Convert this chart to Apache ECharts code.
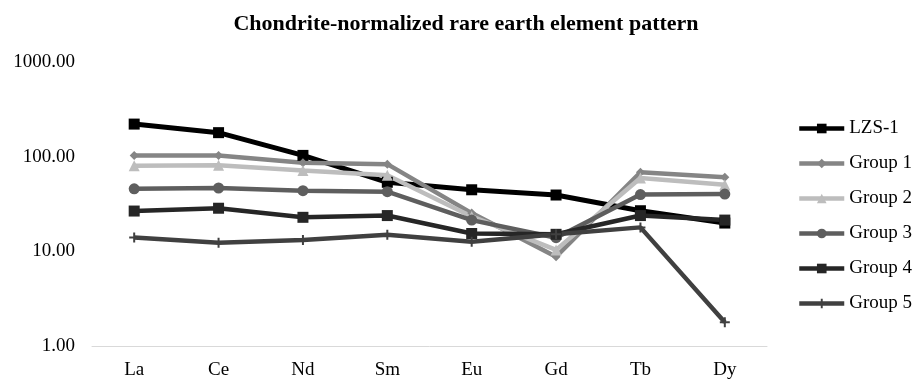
<!DOCTYPE html>
<html>
<head>
<meta charset="utf-8">
<script src="https://cdn.jsdelivr.net/npm/echarts@6/dist/echarts.min.js"></script>
<style>
  html, body { margin: 0; padding: 0; background: #fff; }
  #chart { width: 913px; height: 380px; }
</style>
</head>
<body>
<div id="chart"></div>
<script>
// Chondrite-normalized REE values per sample group
const elements = ['La', 'Ce', 'Nd', 'Sm', 'Eu', 'Gd', 'Tb', 'Dy'];
const lzs1   = [223, 181, 104, 54, 45, 39.6, 27, 20];
const group1 = [104, 104, 87, 84, 25.5, 8.8, 69, 61];
const group2 = [81, 82, 72, 64, 23.5, 10.4, 60, 51];
const group3 = [46, 47, 44, 43, 21.5, 14, 40, 40.5];
const group4 = [26.8, 28.7, 23, 24, 15.5, 15.2, 24, 21.5];
const group5 = [14.1, 12.4, 13.2, 15, 12.7, 15.2, 18, 1.78];
const yTicks = [1, 10, 100, 1000];

const plusPath = 'path://M4,0 L6,0 L6,4 L10,4 L10,6 L6,6 L6,10 L4,10 L4,6 L0,6 L0,4 L4,4 Z';
const serif = '"Liberation Serif", "Times New Roman", serif';

function line(name, data, color, symbol, size, width) {
  return {
    name: name,
    type: 'line',
    data: data,
    symbol: symbol,
    symbolSize: size,
    showSymbol: true,
    lineStyle: { color: color, width: width },
    itemStyle: { color: color, borderWidth: 0 },
    emphasis: { disabled: true },
    animation: false
  };
}

const chart = echarts.init(document.getElementById('chart'));
chart.setOption({
  backgroundColor: '#ffffff',
  title: {
    text: 'Chondrite-normalized rare earth element pattern',
    left: 461,
    textAlign: 'center',
    top: 8,
    textStyle: { fontFamily: serif, fontWeight: 'bold', fontSize: 22, color: '#000' }
  },
  legend: {
    orient: 'vertical',
    left: 797,
    top: 119,
    padding: 0,
    itemWidth: 45,
    itemHeight: 12,
    itemGap: 16,
    lineStyle: { width: 4.5 },
    textStyle: { fontFamily: serif, fontSize: 19, color: '#000' },
    data: ['LZS-1', 'Group 1', 'Group 2', 'Group 3', 'Group 4', 'Group 5']
  },
  grid: { left: 92, right: 146, top: 62.5, bottom: 34, containLabel: false },
  xAxis: {
    type: 'category',
    data: elements,
    boundaryGap: true,
    axisLine: { lineStyle: { color: '#d9d9d9', width: 1 } },
    axisTick: { show: false },
    axisLabel: { fontFamily: serif, fontSize: 19, color: '#000', margin: 15 }
  },
  yAxis: {
    type: 'log',
    logBase: 10,
    min: yTicks[0],
    max: yTicks[yTicks.length - 1],
    axisLine: { show: false },
    axisTick: { show: false },
    splitLine: { show: false },
    axisLabel: {
      fontFamily: serif, fontSize: 19, color: '#000', margin: 17,
      formatter: v => Number(v).toFixed(2)
    }
  },
  series: [
    line('LZS-1', lzs1, '#000000', 'rect', 11, 5),
    line('Group 1', group1, '#858585', 'diamond', 9, 4.5),
    line('Group 2', group2, '#bdbdbd', 'triangle', 11, 4.5),
    line('Group 3', group3, '#5e5e5e', 'circle', 11, 4.5),
    line('Group 4', group4, '#262626', 'rect', 11, 4.5),
    line('Group 5', group5, '#404040', plusPath, 10, 4.5)
  ]
});
</script>
</body>
</html>
